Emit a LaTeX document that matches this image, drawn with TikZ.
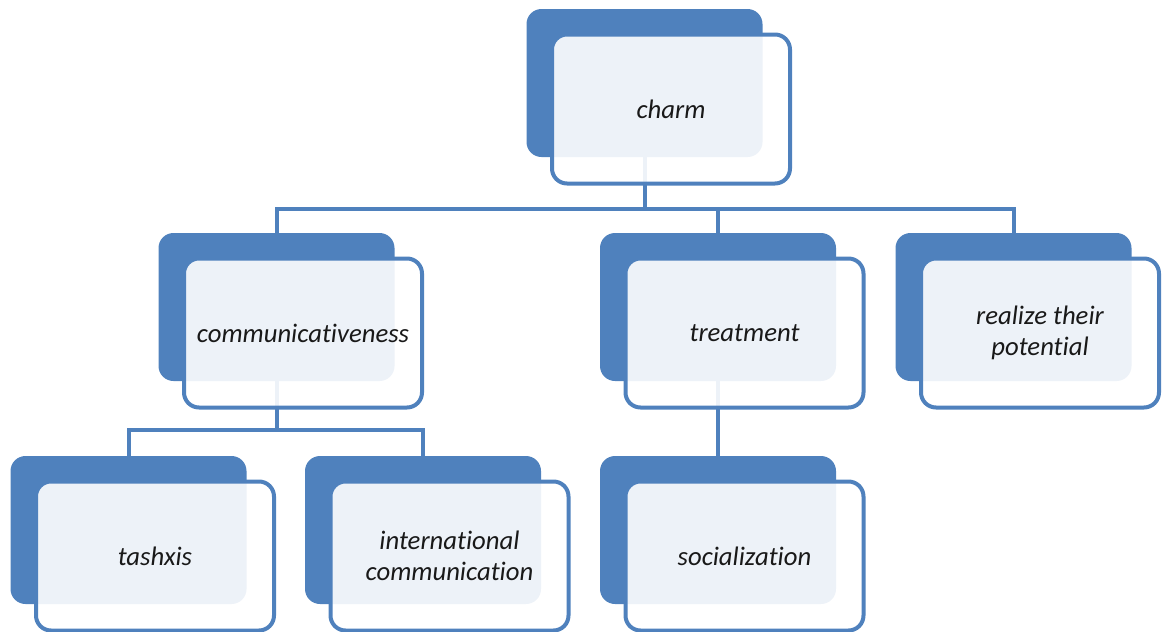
\documentclass[tikz,border=0pt]{standalone}
\usepackage{fontspec}
\setmainfont[Ligatures={NoCommon}]{Carlito}
\usetikzlibrary{positioning,backgrounds,calc}
\definecolor{smartblue}{HTML}{4F81BD}
\tikzset{
  backbox/.style={fill=smartblue, rounded corners=0.3cm, minimum width=4.72cm, minimum height=2.96cm, inner sep=0pt},
  frontbox/.style={draw=smartblue, line width=0.08cm, fill=white, fill opacity=0.9, text opacity=1,
    rounded corners=0.3cm, minimum width=4.76cm, minimum height=2.98cm, inner sep=0pt, align=center,
    font=\fontsize{15.2}{17.6}\selectfont\itshape, text=black!90},
  link/.style={draw=smartblue, line width=0.08cm},
}
\begin{document}
\begin{tikzpicture}
	\useasboundingbox (0, 0) rectangle (23.28, -12.64);
	
	% top level
	\node[backbox] (charm) at (12.89, -1.66) {};
	\node[frontbox] (charm-f) at ([shift={(0.53,-0.52)}]charm) {charm};
	
	% second level
	\node[backbox] (comm) at (5.53, -6.14) {};
	\node[frontbox] (comm-f) at ([shift={(0.53,-0.52)}]comm) {communicativeness};
	
	\node[backbox] (treat) at (14.36, -6.14) {};
	\node[frontbox] (treat-f) at ([shift={(0.53,-0.52)}]treat) {treatment};
	
	\node[backbox] (real) at (20.27, -6.14) {};
	\node[frontbox] (real-f) at ([shift={(0.53,-0.52)}]real) {realize their\\potential};
	
	% third level
	\node[backbox] (tash) at (2.57, -10.6) {};
	\node[frontbox] (tash-f) at ([shift={(0.53,-0.52)}]tash) {tashxis};
	
	\node[backbox] (intl) at (8.46, -10.6) {};
	\node[frontbox] (intl-f) at ([shift={(0.53,-0.52)}]intl) {international\\communication};
	
	\node[backbox] (soc) at (14.36, -10.6) {};
	\node[frontbox] (soc-f) at ([shift={(0.53,-0.52)}]soc) {socialization};
	
	% connectors
	\begin{scope}[on background layer]
		\coordinate (bus1) at (charm |- 0, -4.18);
		\draw[link] (charm.center) -- (bus1) -| (comm.center);
		\draw[link] (bus1) -| (treat.center);
		\draw[link] (bus1) -| (real.center);
		
		\coordinate (bus2) at (comm |- 0, -8.6);
		\draw[link] (comm.center) -- (bus2) -| (tash.center);
		\draw[link] (bus2) -| (intl.center);
		
		\draw[link] (treat.center) -- (soc.center);
	\end{scope}
\end{tikzpicture}
\end{document}
